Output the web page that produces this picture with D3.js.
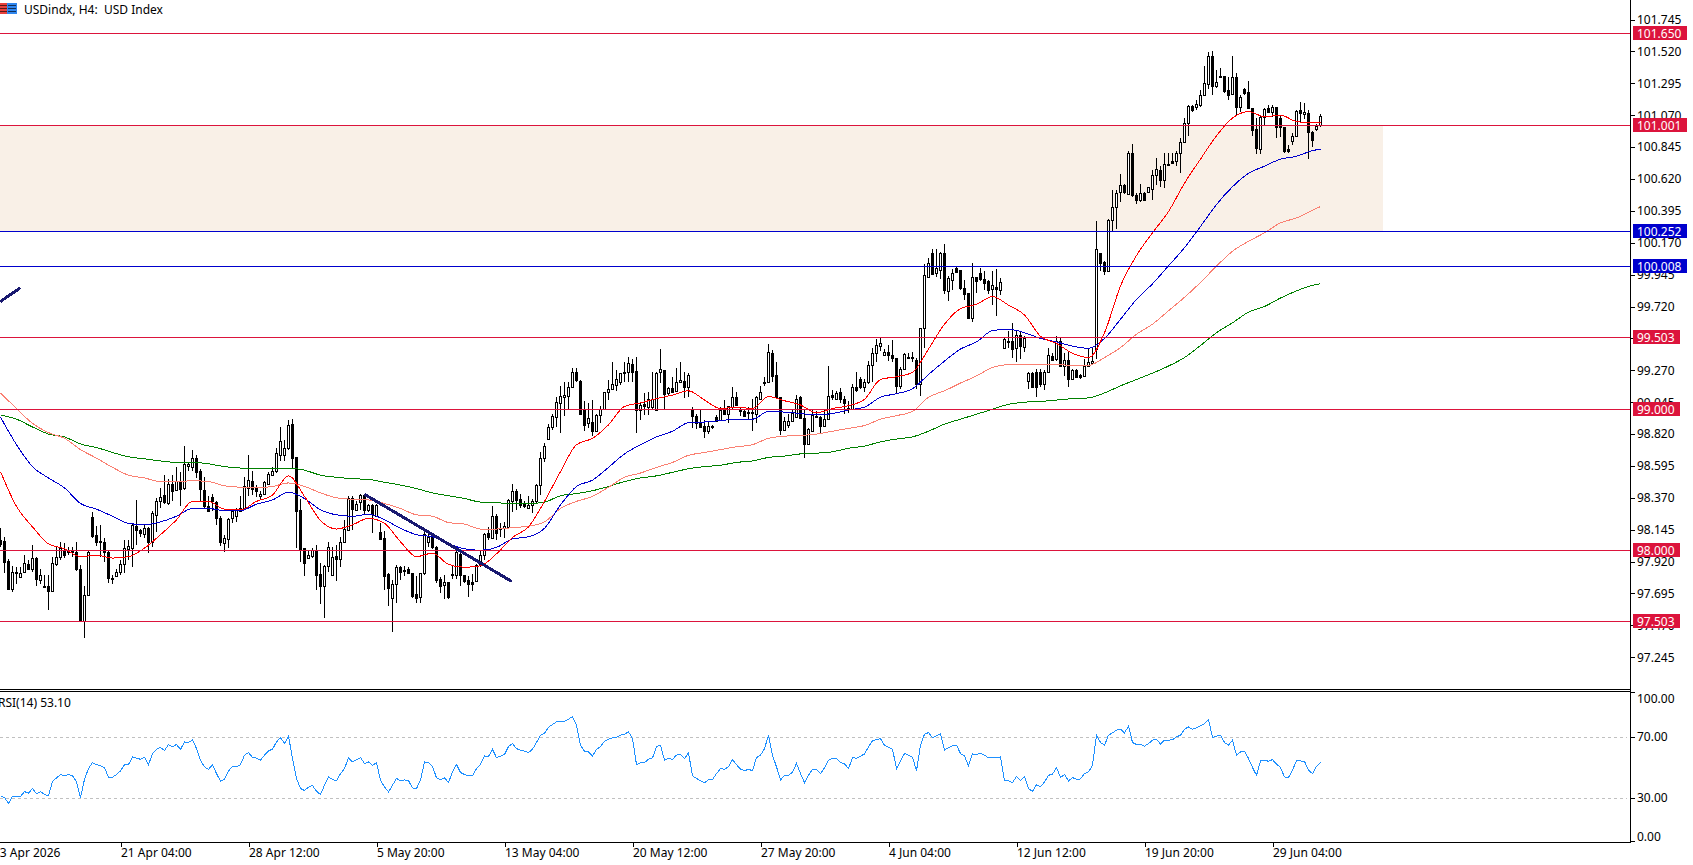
<!DOCTYPE html>
<html>
<head>
<meta charset="utf-8">
<title>USD Index H4</title>
<script src="https://cdnjs.cloudflare.com/ajax/libs/d3/7.9.0/d3.min.js"></script>
<style>
html,body{margin:0;padding:0;background:#fff;overflow:hidden}
svg{display:block}
text{font-family:"Noto Sans",sans-serif;font-size:12px;fill:#000;white-space:pre}
.tick line{stroke:#000}
.crisp{shape-rendering:crispEdges}
</style>
</head>
<body>
<svg id="chart" width="1693" height="865"></svg>
<script>
// H4 candles, one entry per bar, oldest first
const opens = [
98.07,98.065,97.925,97.73,97.85,97.81,97.845,97.90,97.865,97.945,
97.79,97.75,97.745,97.71,97.905,97.95,98.0,97.985,98.0,97.99,
97.87,97.50,97.685,98.235,98.11,98.065,98.06,97.99,97.805,97.82,
97.85,97.90,98.01,98.015,98.17,98.14,98.115,98.16,98.06,98.25,
98.35,98.39,98.335,98.47,98.425,98.49,98.44,98.595,98.59,98.65,
98.56,98.425,98.315,98.375,98.34,98.23,98.05,98.08,98.225,98.24,
98.28,98.295,98.44,98.49,98.44,98.385,98.395,98.465,98.53,98.56,
98.675,98.675,98.72,98.89,98.655,98.285,98.015,97.945,97.96,98.0,
97.83,97.745,97.89,97.825,97.96,97.94,98.06,98.145,98.37,98.285,
98.34,98.39,98.285,98.32,98.245,98.13,98.085,97.83,97.665,97.76,
97.885,97.86,97.87,97.84,97.69,97.67,97.84,98.055,98.095,98.025,
97.80,97.755,97.775,97.825,97.825,97.975,97.825,97.79,97.775,97.785,
97.895,97.965,98.12,98.09,98.24,98.16,98.16,98.165,98.35,98.415,
98.36,98.33,98.30,98.32,98.345,98.46,98.65,98.785,98.87,98.94,
99.04,99.08,99.09,99.15,99.255,99.195,98.995,98.895,98.905,98.84,
98.955,99.0,99.115,99.14,99.165,99.19,99.25,99.255,99.315,99.265,
98.99,99.035,99.01,99.01,98.99,99.255,99.27,99.11,99.145,99.125,
99.185,99.195,99.15,98.99,98.95,98.90,98.875,98.84,98.88,98.94,
98.92,98.99,98.965,99.01,99.085,98.99,98.98,98.975,98.975,98.965,
99.07,99.185,99.185,99.395,99.24,99.08,98.85,98.885,98.915,98.94,
99.08,98.93,98.75,98.84,98.945,98.94,98.875,98.925,99.095,99.07,
99.115,99.065,99.005,98.995,99.155,99.21,99.155,99.185,99.31,99.395,
99.44,99.38,99.40,99.375,99.36,99.16,99.28,99.365,99.365,99.34,
99.17,99.565,99.93,100.095,99.955,99.98,100.095,99.83,99.91,99.99,
99.975,99.85,99.815,99.64,99.925,99.96,99.915,99.90,99.845,99.86,
99.84,99.425,99.48,99.48,99.425,99.52,99.435,99.195,99.25,99.26,
99.255,99.17,99.26,99.37,99.35,99.48,99.30,99.34,99.205,99.27,
99.235,99.23,99.30,99.32,99.42,100.095,100.035,99.97,100.33,100.42,
100.525,100.575,100.515,100.80,100.51,100.47,100.52,100.525,100.55,100.645,
100.685,100.615,100.72,100.75,100.745,100.80,100.88,101.015,101.135,101.125,
101.145,101.215,101.29,101.49,101.275,101.34,101.345,101.25,101.22,101.34,
101.13,101.255,101.235,101.12,100.97,100.83,101.055,101.12,101.095,101.125,
101.05,100.985,100.83,100.885,100.92,101.105,101.08,101.085,100.95,100.97,
101.0];
const highs = [
98.155,98.095,97.94,97.89,97.885,97.88,97.965,97.93,98.04,97.95,
97.865,97.825,97.825,97.955,98.025,98.06,98.05,98.02,98.025,98.06,
97.895,97.75,98.0,98.27,98.17,98.175,98.085,98.0,97.825,97.87,
97.93,98.07,98.07,98.19,98.355,98.15,98.18,98.165,98.275,98.37,
98.44,98.53,98.50,98.53,98.59,98.555,98.735,98.615,98.71,98.67,
98.57,98.515,98.38,98.40,98.345,98.24,98.105,98.225,98.285,98.295,
98.38,98.515,98.67,98.56,98.46,98.42,98.49,98.555,98.585,98.72,
98.87,98.78,98.92,98.925,98.66,98.36,98.015,98.0,98.015,98.04,
97.91,97.895,98.055,98.025,98.04,98.095,98.215,98.38,98.38,98.345,
98.395,98.40,98.33,98.33,98.33,98.19,98.135,97.84,97.79,97.895,
97.89,97.89,97.885,97.84,97.815,97.84,98.13,98.115,98.115,98.03,
97.81,97.825,97.775,97.895,98.0,97.99,97.825,97.82,97.83,97.905,
98.0,98.12,98.165,98.31,98.255,98.195,98.20,98.365,98.47,98.43,
98.40,98.35,98.38,98.365,98.47,98.69,98.755,98.89,98.965,99.085,
99.16,99.19,99.19,99.285,99.285,99.20,99.05,99.04,99.06,98.965,
99.02,99.12,99.2,99.33,99.275,99.25,99.325,99.365,99.35,99.365,
99.04,99.11,99.12,99.255,99.255,99.42,99.275,99.155,99.225,99.285,
99.33,99.26,99.25,99.01,98.965,99.0,98.92,98.915,98.885,98.955,
99.01,99.06,99.015,99.15,99.115,99.01,99.0,99.01,99.07,99.09,
99.16,99.22,99.455,99.41,99.325,99.08,98.94,98.96,99.0,99.095,
99.09,99.0,98.86,98.99,98.985,98.95,98.99,99.30,99.13,99.125,
99.145,99.09,99.055,99.17,99.255,99.225,99.21,99.335,99.43,99.49,
99.495,99.42,99.445,99.485,99.36,99.29,99.395,99.395,99.40,99.36,
99.57,100.02,100.065,100.125,100.125,100.105,100.16,99.935,99.985,100.005,
99.975,99.91,99.815,100.025,99.93,99.99,99.97,99.905,99.97,99.985,
99.92,99.50,99.55,99.605,99.55,99.54,99.51,99.26,99.26,99.28,
99.28,99.275,99.425,99.39,99.515,99.50,99.395,99.405,99.28,99.28,
99.245,99.35,99.43,99.43,100.32,100.10,100.04,100.335,100.545,100.545,
100.655,100.585,100.815,100.87,100.52,100.585,100.525,100.565,100.685,100.765,
100.71,100.80,100.80,100.80,100.82,100.91,101.05,101.145,101.145,101.18,
101.245,101.415,101.515,101.52,101.39,101.40,101.35,101.34,101.485,101.365,
101.215,101.26,101.31,101.12,101.05,101.07,101.12,101.145,101.145,101.13,
101.07,100.99,100.86,100.945,101.11,101.165,101.155,101.11,100.955,101.01,
101.08];
const lows = [
98.025,97.84,97.72,97.705,97.765,97.81,97.84,97.86,97.85,97.745,
97.765,97.735,97.58,97.705,97.89,97.93,97.945,97.965,97.955,97.855,
97.50,97.38,97.685,98.09,98.03,97.955,97.92,97.77,97.76,97.815,
97.825,97.84,97.93,97.885,98.04,98.095,98.085,97.98,98.025,98.13,
98.295,98.33,98.32,98.345,98.415,98.31,98.425,98.56,98.56,98.51,
98.345,98.30,98.27,98.275,98.18,98.03,97.985,98.015,98.19,98.20,
98.275,98.295,98.38,98.39,98.375,98.355,98.39,98.465,98.525,98.545,
98.63,98.63,98.71,98.58,98.015,97.92,97.815,97.94,97.945,97.72,
97.62,97.52,97.85,97.82,97.78,97.885,98.055,98.145,98.145,98.275,
98.285,98.25,98.27,98.125,98.24,98.07,97.72,97.61,97.425,97.63,
97.79,97.815,97.835,97.66,97.63,97.63,97.825,98.025,98.01,97.77,
97.70,97.655,97.655,97.80,97.80,97.75,97.77,97.67,97.71,97.785,
97.88,97.93,98.07,98.085,98.07,98.095,98.09,98.155,98.27,98.285,
98.295,98.30,98.295,98.265,98.335,98.39,98.62,98.78,98.85,98.87,
98.83,98.95,99.0,99.145,99.19,98.96,98.84,98.86,98.805,98.84,
98.895,98.995,99.06,99.13,99.125,99.165,99.19,99.185,99.19,98.825,
98.92,98.955,98.955,98.99,98.985,99.18,98.995,99.095,99.11,99.12,
99.185,99.075,99.085,98.86,98.855,98.86,98.795,98.82,98.855,98.915,
98.915,98.955,98.895,99.0,99.02,98.95,98.95,98.925,98.84,98.90,
99.07,99.16,99.18,99.19,99.07,98.815,98.845,98.86,98.915,98.93,
98.925,98.65,98.745,98.84,98.93,98.83,98.87,98.92,99.06,99.065,
99.04,98.96,98.97,98.99,99.115,99.14,99.115,99.17,99.19,99.33,
99.405,99.37,99.335,99.33,99.10,99.135,99.27,99.35,99.325,99.135,
99.09,99.43,99.925,99.95,99.93,99.915,99.805,99.76,99.84,99.96,
99.84,99.765,99.63,99.61,99.815,99.90,99.84,99.805,99.73,99.655,
99.80,99.42,99.43,99.355,99.325,99.35,99.40,99.135,99.15,99.08,
99.15,99.13,99.255,99.335,99.335,99.29,99.23,99.155,99.20,99.22,
99.21,99.225,99.30,99.31,99.35,99.97,99.94,99.965,100.25,100.27,
100.455,100.515,100.51,100.495,100.44,100.46,100.47,100.52,100.47,100.58,
100.565,100.555,100.71,100.73,100.71,100.66,100.875,100.92,101.09,101.11,
101.125,101.21,101.255,101.215,101.26,101.33,101.23,101.175,101.215,101.065,
101.095,101.215,101.115,100.92,100.795,100.795,101.0,101.09,101.06,100.91,
100.915,100.80,100.805,100.86,100.915,101.015,101.04,100.76,100.845,100.955,
100.99];
const closes = [
98.045,97.92,97.73,97.85,97.84,97.84,97.91,97.87,97.945,97.795,
97.825,97.745,97.71,97.91,97.95,98.015,97.965,98.0,97.985,97.87,
97.50,97.685,97.99,98.10,98.06,98.055,97.985,97.805,97.80,97.85,
97.905,98.015,98.03,98.18,98.14,98.12,98.16,98.06,98.26,98.35,
98.375,98.34,98.47,98.42,98.49,98.435,98.61,98.61,98.65,98.55,
98.43,98.31,98.275,98.345,98.225,98.055,98.085,98.22,98.275,98.285,
98.30,98.45,98.495,98.43,98.42,98.40,98.48,98.54,98.56,98.685,
98.77,98.72,98.885,98.65,98.28,98.0,97.91,97.965,98.0,97.825,
97.745,97.89,98.025,97.955,97.94,98.06,98.15,98.37,98.29,98.33,
98.39,98.285,98.32,98.255,98.32,98.08,97.82,97.735,97.76,97.88,
97.845,97.855,97.84,97.68,97.66,97.84,98.115,98.095,98.02,97.79,
97.75,97.775,97.67,97.835,97.985,97.825,97.785,97.76,97.76,97.895,
97.965,98.115,98.095,98.245,98.12,98.15,98.17,98.355,98.415,98.355,
98.32,98.31,98.32,98.35,98.46,98.65,98.735,98.87,98.95,99.045,
99.09,99.095,99.15,99.255,99.20,98.965,98.885,98.935,98.84,98.955,
99.0,99.115,99.14,99.175,99.21,99.25,99.255,99.32,99.26,98.99,
99.025,99.015,99.065,99.065,99.25,99.28,99.105,99.145,99.12,99.185,
99.20,99.15,99.24,98.945,98.90,98.87,98.84,98.88,98.87,98.915,
98.99,98.96,99.015,99.085,99.025,98.98,98.95,98.97,98.97,99.08,
99.115,99.19,99.40,99.23,99.08,98.85,98.915,98.915,98.97,99.07,
98.935,98.75,98.855,98.955,98.95,98.875,98.925,99.09,99.085,99.11,
99.065,99.04,98.995,99.15,99.13,99.155,99.19,99.31,99.395,99.445,
99.46,99.40,99.38,99.355,99.16,99.28,99.385,99.355,99.355,99.175,
99.565,99.94,100.025,99.95,99.99,100.095,99.84,99.92,99.955,99.965,
99.85,99.805,99.64,99.925,99.90,99.915,99.885,99.84,99.87,99.845,
99.895,99.49,99.475,99.42,99.52,99.44,99.495,99.25,99.155,99.155,
99.17,99.26,99.375,99.34,99.48,99.30,99.34,99.205,99.27,99.225,
99.225,99.30,99.325,99.335,100.125,100.025,99.97,100.33,100.42,100.52,
100.58,100.525,100.80,100.505,100.47,100.52,100.475,100.56,100.65,100.69,
100.615,100.725,100.725,100.735,100.805,100.88,101.015,101.135,101.105,101.15,
101.215,101.295,101.49,101.275,101.305,101.35,101.24,101.215,101.34,101.13,
101.195,101.225,101.12,100.965,100.84,101.055,101.115,101.095,101.125,100.985,
100.985,100.82,100.82,100.92,101.10,101.085,101.09,100.95,100.895,100.995,
101.065];

// Moving averages, read every fourth bar, last value on the final bar
const redMA = [
98.555,98.31,98.165,98.045,98.01,97.955,97.965,97.945,97.955,98.015,98.11,98.215,98.345,98.345,98.29,98.285,98.345,98.39,98.525,98.38,98.21,98.15,98.18,98.225,98.19,98.06,97.955,
97.98,97.90,97.88,97.89,97.975,98.09,98.165,98.345,98.555,98.745,98.79,98.885,99.015,99.04,99.07,99.095,99.125,99.06,99.0,99.01,99.0,99.085,99.055,99.025,98.97,99.0,
99.02,99.065,99.205,99.225,99.255,99.42,99.595,99.705,99.735,99.79,99.73,99.66,99.51,99.46,99.39,99.36,99.535,99.865,100.08,100.24,
100.39,100.59,100.76,100.925,101.05,101.095,101.06,101.07,101.025,101.015,101.015];
const blueMA = [
98.94,98.745,98.59,98.51,98.44,98.33,98.29,98.24,98.19,98.18,98.2,98.24,98.295,98.295,98.28,98.28,98.325,98.355,98.41,98.365,98.285,98.25,98.24,98.255,98.215,98.155,98.11,
98.095,98.045,98.01,98.0,98.02,98.08,98.095,98.155,98.32,98.45,98.495,98.585,98.68,98.745,98.80,98.84,98.90,98.905,98.915,98.925,98.925,98.98,98.975,98.965,98.955,98.965,
98.99,99.01,99.08,99.105,99.14,99.24,99.335,99.42,99.47,99.55,99.56,99.535,99.495,99.47,99.44,99.425,99.495,99.63,99.77,99.88,
100.007,100.135,100.285,100.44,100.565,100.66,100.71,100.76,100.78,100.82,100.83];
const salmonMA = [
99.11,99.0,98.895,98.83,98.79,98.71,98.65,98.585,98.53,98.51,98.485,98.485,98.49,98.485,98.455,98.445,98.44,98.45,98.475,98.45,98.405,98.37,98.36,98.355,98.33,98.295,98.25,
98.24,98.195,98.185,98.15,98.15,98.16,98.17,98.20,98.295,98.345,98.38,98.445,98.515,98.545,98.585,98.62,98.67,98.69,98.71,98.73,98.745,98.79,98.805,98.81,98.82,98.84,
98.86,98.88,98.925,98.95,98.98,99.08,99.125,99.18,99.23,99.29,99.31,99.31,99.31,99.31,99.305,99.305,99.36,99.43,99.525,99.595,
99.69,99.785,99.89,100.005,100.11,100.18,100.24,100.31,100.345,100.40,100.425];
const greenMA = [
98.955,98.925,98.87,98.82,98.80,98.75,98.725,98.69,98.66,98.645,98.63,98.62,98.62,98.61,98.59,98.58,98.575,98.575,98.58,98.565,98.53,98.515,98.505,98.50,98.48,98.46,98.435,
98.405,98.385,98.365,98.34,98.335,98.33,98.33,98.34,98.385,98.40,98.42,98.45,98.485,98.51,98.525,98.55,98.575,98.59,98.60,98.62,98.63,98.655,98.665,98.68,98.685,98.695,
98.72,98.735,98.765,98.785,98.80,98.84,98.89,98.925,98.96,98.995,99.03,99.045,99.05,99.06,99.07,99.075,99.11,99.16,99.205,99.25,
99.30,99.36,99.445,99.535,99.605,99.68,99.72,99.78,99.83,99.87,99.88];

// RSI(14), one entry per bar
const rsiValues = [
31.1,30.0,26.1,30.7,30.7,30.7,33.9,32.8,35.9,32.6,33.9,32.0,31.3,40.5,42.9,45.1,44.2,45.1,44.2,40.3,
30.0,42.0,49.0,52.9,51.6,51.0,49.5,43.3,43.3,45.1,47.5,51.6,51.6,56.7,55.8,55.1,56.4,51.6,58.9,61.7,
62.8,60.8,64.8,63.2,64.8,61.5,66.5,66.1,67.8,62.1,54.5,50.1,48.4,51.6,45.7,40.7,42.0,47.5,50.3,50.3,
51.6,57.8,59.5,56.4,55.8,54.5,57.8,60.6,61.7,66.5,69.3,65.4,70.4,55.6,42.5,35.9,34.6,36.8,37.9,34.1,
32.0,38.1,43.5,42.0,40.9,45.7,49.0,56.0,53.4,54.9,56.2,52.3,53.4,51.0,52.9,41.4,37.0,33.7,38.1,42.5,
41.1,41.6,41.1,36.3,35.9,41.4,53.4,52.9,50.5,42.9,41.6,42.9,39.8,46.8,51.6,46.4,45.1,44.2,44.2,49.0,
51.9,57.3,56.9,61.5,56.2,57.1,58.2,63.4,65.4,62.1,61.0,60.4,59.5,61.7,66.1,70.9,72.2,76.1,77.9,79.6,
80.1,80.1,81.4,83.1,77.4,64.3,60.4,59.9,57.3,61.7,63.4,66.9,68.3,69.1,69.6,70.9,71.5,73.1,68.7,51.6,
52.9,52.9,55.1,56.0,63.4,64.3,54.5,55.6,55.1,57.8,58.4,55.6,59.3,44.2,42.5,41.1,39.8,41.6,41.8,45.7,
49.0,48.6,50.1,54.9,51.6,48.6,47.7,48.4,47.7,56.2,57.8,62.1,70.9,57.8,50.1,41.6,44.4,44.4,46.8,52.3,
45.7,39.8,44.6,48.6,48.6,45.7,49.5,54.5,55.6,55.6,52.9,52.1,49.0,56.2,55.8,57.1,58.6,63.2,67.2,68.0,
68.7,64.3,63.0,61.7,49.0,53.8,58.9,57.8,56.4,47.5,64.3,71.5,72.6,69.3,70.4,72.0,61.0,62.8,63.9,64.3,
58.9,57.3,50.8,58.6,58.4,58.9,57.8,56.0,56.2,56.0,56.7,41.1,41.1,39.8,43.8,41.1,43.8,35.9,34.1,38.5,
37.0,40.3,44.6,45.3,49.7,43.1,45.1,40.9,43.1,42.0,42.2,45.7,46.8,51.2,70.9,66.1,64.3,70.9,72.4,74.2,
74.8,72.4,76.8,66.1,64.8,65.0,63.7,65.4,67.6,68.3,65.0,67.6,67.6,68.0,69.8,70.9,74.8,76.3,74.8,75.7,
77.0,78.5,81.1,69.3,70.2,70.9,66.1,64.3,67.6,57.8,59.9,60.4,55.6,49.7,44.6,54.0,54.5,53.8,54.9,51.9,
49.7,43.5,43.1,47.9,54.3,54.0,53.8,47.9,45.7,50.5,53.1];

// Horizontal levels with their right-hand flags
const levelPrices = [101.650,101.001,100.252,100.008,99.503,99.000,98.000,97.503];
const levelLabels = ["101.650","101.001","100.252","100.008","99.503","99.000","98.000","97.503"];
const levelColors = ["#DC143C","#DC143C","#0000CD","#0000CD","#DC143C","#DC143C","#DC143C","#DC143C"];

// Shaded resistance zone
const zonePrices = [101.001,100.252];

// Axis labels
const priceTicks = [101.745,101.520,101.295,101.070,100.845,100.620,100.395,100.170,99.945,99.720,99.495,99.270,99.045,98.820,98.595,98.370,98.145,97.920,97.695,97.470,97.245];
const rsiTicks = [100,70,30,0];
const timeTickBars = [-2,30,62,94,126,158,190,222,254,286,318];
const timeLabels = ["13 Apr 2026","21 Apr 04:00","28 Apr 12:00","5 May 20:00","13 May 04:00","20 May 12:00","27 May 20:00","4 Jun 04:00","12 Jun 12:00","19 Jun 20:00","29 Jun 04:00"];

// Hand-drawn trendlines: [bar, price] end points
const trendA = [[91,98.395],[127.8,97.78]];
const trendB = [[-0.1,99.754],[5,99.853]];

const maColors = {red:"#FF0000",blue:"#0000CD",salmon:"#FA8072",green:"#008000"};

const lengths = [opens.length,highs.length,lows.length,closes.length,rsiValues.length];
if (new Set(lengths).size !== 1) throw new Error("bar arrays differ: " + lengths);
const maLengths = [redMA.length,blueMA.length,salmonMA.length,greenMA.length];
if (new Set(maLengths).size !== 1) throw new Error("MA arrays differ: " + maLengths);

const bars = d3.range(opens.length);
const lastBar = bars.length - 1;
const maBars = [...d3.range(0, lastBar, 4), lastBar];
if (maBars.length !== redMA.length) throw new Error("MA sample count " + maBars.length + " vs " + redMA.length);

const axisX = 1630, mainBottom = 689, rsiTop = 691, rsiBottom = 842;

const x = d3.scaleLinear().domain([0, lastBar]).range([0.5, 1320.5]);
const y = d3.scaleLinear().domain([97.503, 101.650]).range([620.7, 33]);
const yRsi = d3.scaleLinear().domain([0, 100]).range([843.3, 690.8]);

const svg = d3.select("#chart");
const defs = svg.append("defs");
defs.append("clipPath").attr("id","mainClip").append("rect").attr("width",axisX).attr("height",mainBottom);
defs.append("clipPath").attr("id","rsiClip").append("rect").attr("y",rsiTop).attr("width",axisX).attr("height",rsiBottom-rsiTop);

const main = svg.append("g").attr("clip-path","url(#mainClip)");

// Resistance zone
main.append("rect").attr("class","crisp")
  .attr("x",0).attr("width",1383)
  .attr("y",y(zonePrices[0])).attr("height",y(zonePrices[1])-y(zonePrices[0]))
  .attr("fill","#F9F0E7");

// Candlesticks: wick, then a 3px body with a white core on up bars
const candles = main.append("g").attr("class","crisp");
const snap = v => Math.round(v);
candles.selectAll("rect.wick").data(bars).join("rect").attr("class","wick")
  .attr("x",i=>x(i)-0.5).attr("width",1)
  .attr("y",i=>snap(y(highs[i]))).attr("height",i=>Math.max(1,snap(y(lows[i]))-snap(y(highs[i]))))
  .attr("fill","#000");
const bodyTop = i => snap(y(Math.max(opens[i],closes[i])));
const bodyBot = i => Math.max(bodyTop(i)+1, snap(y(Math.min(opens[i],closes[i]))));
candles.selectAll("rect.body").data(bars).join("rect").attr("class","body")
  .attr("x",i=>x(i)-1.5).attr("width",3)
  .attr("y",bodyTop).attr("height",i=>bodyBot(i)-bodyTop(i)+1)
  .attr("fill","#000");
candles.selectAll("rect.core").data(bars.filter(i=>closes[i]>=opens[i] && bodyBot(i)-bodyTop(i)>1)).join("rect").attr("class","core")
  .attr("x",i=>x(i)-0.5).attr("width",1)
  .attr("y",i=>bodyTop(i)+1).attr("height",i=>bodyBot(i)-bodyTop(i)-1)
  .attr("fill","#fff");

// Moving averages
const maLine = d3.line().x((d,k)=>x(maBars[k])).y(d=>y(d)).curve(d3.curveMonotoneX);
[[greenMA,maColors.green],[salmonMA,maColors.salmon],[blueMA,maColors.blue],[redMA,maColors.red]].forEach(([vals,col])=>{
  main.append("path").attr("class","crisp").attr("d",maLine(vals)).attr("fill","none").attr("stroke",col).attr("stroke-width",1);
});

// Level lines
main.selectAll("line.level").data(levelPrices).join("line").attr("class","level crisp")
  .attr("x1",0).attr("x2",axisX)
  .attr("y1",d=>Math.round(y(d))+0.5).attr("y2",d=>Math.round(y(d))+0.5)
  .attr("stroke",(d,k)=>levelColors[k]).attr("stroke-width",1);

// Trendlines
const trendLine = d3.line().x(d=>x(d[0])).y(d=>y(d[1]));
[trendA,trendB].forEach(t=>{
  main.append("path").attr("class","crisp").attr("d",trendLine(t)).attr("fill","none").attr("stroke","#191970").attr("stroke-width",3);
});

// Chart title and its symbol icon
const icon = svg.append("g").attr("class","crisp");
icon.append("rect").attr("x",0).attr("y",3).attr("width",7).attr("height",11).attr("fill","#E8413A");
icon.append("rect").attr("x",7).attr("y",3).attr("width",10).attr("height",11).attr("fill","#2F86EE");
[5,8,11].forEach(v=>{
  icon.append("rect").attr("x",0).attr("y",v).attr("width",7).attr("height",1).attr("fill","#5A1A1A");
  icon.append("rect").attr("x",8).attr("y",v).attr("width",8).attr("height",1).attr("fill","#10305A");
});
svg.append("text").attr("x",24).attr("y",13.5).text("USDindx, H4:  USD Index");

// RSI pane
const rsiPane = svg.append("g").attr("clip-path","url(#rsiClip)");
rsiPane.selectAll("line.band").data([70,30]).join("line").attr("class","band crisp")
  .attr("x1",0).attr("x2",axisX-3)
  .attr("y1",d=>Math.round(yRsi(d))+0.5).attr("y2",d=>Math.round(yRsi(d))+0.5)
  .attr("stroke","#C0C0C0").attr("stroke-dasharray","3,3");
rsiPane.append("path").attr("class","crisp")
  .attr("d",d3.line().x((d,k)=>x(k)).y(d=>yRsi(d))(rsiValues))
  .attr("fill","none").attr("stroke","#1E90FF").attr("stroke-width",1);
rsiPane.append("text").attr("x",-2).attr("y",707).text("RSI(14) "+rsiValues[lastBar].toFixed(2));

// Pane frame
const frame = svg.append("g").attr("class","crisp").attr("stroke","#000").attr("stroke-width",1);
frame.append("line").attr("x1",axisX+0.5).attr("x2",axisX+0.5).attr("y1",0).attr("y2",rsiBottom+1);
[mainBottom,rsiTop,rsiBottom].forEach(v=>frame.append("line").attr("x1",0).attr("x2",axisX).attr("y1",v+0.5).attr("y2",v+0.5));

// Price axis
const priceAxis = d3.axisRight(y).tickValues(priceTicks).tickFormat(d3.format(".3f")).tickSize(4).tickPadding(2);
const priceG = svg.append("g").attr("class","crisp").attr("transform",`translate(${axisX+1},0)`).call(priceAxis);
priceG.select(".domain").remove();
priceG.selectAll("text").style("font-family",'"Noto Sans",sans-serif').style("font-size","12px");

// RSI axis
const rsiAxis = d3.axisRight(yRsi).tickValues(rsiTicks).tickFormat(d3.format(".2f")).tickSize(4).tickPadding(2);
const rsiG = svg.append("g").attr("class","crisp").attr("transform",`translate(${axisX+1},0)`).call(rsiAxis);
rsiG.select(".domain").remove();
rsiG.selectAll("text").style("font-family",'"Noto Sans",sans-serif').style("font-size","12px");
rsiG.selectAll(".tick").filter(d=>d===100).select("text").attr("dy","0.95em");
rsiG.selectAll(".tick").filter(d=>d===0).select("text").attr("dy","-0.25em");
rsiG.selectAll(".tick").filter(d=>d===100).select("line").attr("transform","translate(0,1.5)");
rsiG.selectAll(".tick").filter(d=>d===0).select("line").attr("transform","translate(0,-2)");

// Time axis
const timeAxis = d3.axisBottom(x).tickValues(timeTickBars)
  .tickFormat((d,k)=>timeLabels[k]).tickSize(4).tickPadding(1);
const timeG = svg.append("g").attr("class","crisp").attr("transform",`translate(0,${rsiBottom+1})`).call(timeAxis);
timeG.select(".domain").remove();
timeG.selectAll("text").attr("text-anchor","start").style("font-family",'"Noto Sans",sans-serif').style("font-size","12px");

// Level flags sit on top of the price labels
const flags = svg.append("g").selectAll("g").data(levelPrices).join("g")
  .attr("transform",d=>`translate(1633,${Math.round(y(d))-7})`);
flags.append("rect").attr("class","crisp").attr("width",(d,k)=>levelLabels[k].length>6?54:47).attr("height",14)
  .attr("fill",(d,k)=>levelColors[k]);
flags.append("text").attr("x",4).attr("y",11.5).style("fill","#fff").text((d,k)=>levelLabels[k]);
</script>
</body>
</html>
